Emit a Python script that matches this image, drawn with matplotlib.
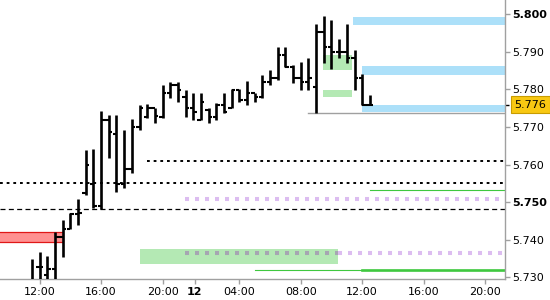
import matplotlib
matplotlib.use("Agg")
import matplotlib.pyplot as plt
import matplotlib.transforms as mtransforms
from matplotlib.patches import Rectangle

plt.rcParams["font.family"] = "DejaVu Sans"
plt.rcParams["lines.scale_dashes"] = False

# ---------------- DATA ----------------
# 30-minute OHLC bars, bar index 0 = 11:30 (day 11), last bar = 12:30 (day 12)
opens = [5.7288, 5.7328, 5.7307, 5.7323, 5.7408, 5.7429, 5.7469, 5.7525, 5.7549, 5.7490,
         5.7719, 5.7682, 5.7549, 5.7589, 5.7700, 5.7727, 5.7751, 5.7727, 5.7791, 5.7812,
         5.7780, 5.7751, 5.7719, 5.7745, 5.7727, 5.7759, 5.7751, 5.7799, 5.7772, 5.7791,
         5.7780, 5.7820, 5.7831, 5.7892, 5.7860, 5.7831, 5.7820, 5.7807, 5.7953, 5.7913,
         5.7900, 5.7900, 5.7884, 5.7831, 5.7759]
highs = [5.7349, 5.7368, 5.7357, 5.7421, 5.7453, 5.7472, 5.7509, 5.7639, 5.7642, 5.7743,
         5.7732, 5.7732, 5.7692, 5.7721, 5.7759, 5.7761, 5.7751, 5.7812, 5.7820, 5.7820,
         5.7799, 5.7791, 5.7791, 5.7751, 5.7764, 5.7791, 5.7801, 5.7801, 5.7823, 5.7791,
         5.7839, 5.7852, 5.7913, 5.7913, 5.7865, 5.7873, 5.7884, 5.7974, 5.7995, 5.7985,
         5.7934, 5.7974, 5.7905, 5.7841, 5.7785]
lows = [5.7288, 5.7293, 5.7293, 5.7293, 5.7355, 5.7429, 5.7440, 5.7519, 5.7485, 5.7482,
        5.7618, 5.7527, 5.7538, 5.7578, 5.7692, 5.7724, 5.7711, 5.7724, 5.7777, 5.7767,
        5.7727, 5.7719, 5.7719, 5.7711, 5.7719, 5.7737, 5.7751, 5.7767, 5.7759, 5.7767,
        5.7777, 5.7812, 5.7825, 5.7860, 5.7817, 5.7799, 5.7799, 5.7737, 5.7870, 5.7855,
        5.7884, 5.7870, 5.7799, 5.7759, 5.7759]
closes = [5.7290, 5.7328, 5.7323, 5.7408, 5.7429, 5.7469, 5.7472, 5.7599, 5.7490, 5.7719,
          5.7687, 5.7549, 5.7589, 5.7700, 5.7751, 5.7751, 5.7729, 5.7791, 5.7812, 5.7799,
          5.7751, 5.7740, 5.7767, 5.7727, 5.7759, 5.7740, 5.7799, 5.7772, 5.7791, 5.7780,
          5.7820, 5.7831, 5.7892, 5.7860, 5.7831, 5.7820, 5.7831, 5.7953, 5.7913, 5.7900,
          5.7900, 5.7884, 5.7831, 5.7759, 5.7759]

x_tick_pos = [1, 9, 17, 21.2, 27, 35, 43, 51, 59]
x_tick_labels = ["12:00", "16:00", "20:00", "12", "04:00", "08:00", "12:00", "16:00", "20:00"]
y_ticks = [5.730, 5.740, 5.750, 5.760, 5.770, 5.780, 5.790, 5.800]
bold_y = [5.750, 5.800]
last_price = 5.776

X_MIN, X_MAX = -4.17, 61.6
Y_MIN, Y_MAX = 5.7296, 5.8038

# zones: (start bar, end bar, low, high); None end = right edge
red_zone = (X_MIN, 4.0, 5.7395, 5.7420)
green_zones = [(14.1, 39.8, 5.7337, 5.7376),
               (37.9, 41.7, 5.7852, 5.7892),
               (37.9, 41.7, 5.7781, 5.7799)]
blue_zones = [(41.8, None, 5.7972, 5.7992),
              (43.0, None, 5.7839, 5.7862),
              (43.0, None, 5.7740, 5.7759)]

# levels: (start bar, end bar, price)
dotted_black = [(15.0, None, 5.7611), (X_MIN, None, 5.7550)]
dashed_black = [(X_MIN, None, 5.7482)]
lavender_dots = [(19.9, None, 5.7509), (39.8, None, 5.7366)]
gray_dots = [(19.9, 39.8, 5.7366)]
green_thin = [(44.0, None, 5.7533), (29.0, None, 5.7320)]
green_thick = [(43.0, None, 5.7320)]
price_line = [(36.0, None, 5.7737)]

# ---------------- PLOT ----------------
fig = plt.figure(figsize=(5.5, 3.0), dpi=100)
ax = fig.add_axes([0.0, 0.07, 505 / 550, 0.93])
ax.set_xlim(X_MIN, X_MAX)
ax.set_ylim(Y_MIN, Y_MAX)


def end_of(e):
    return X_MAX if e is None else e


# zones
x0, x1, lo, hi = red_zone
ax.add_patch(Rectangle((x0 - 1, lo), x1 - x0 + 1, hi - lo, facecolor="#ff9191",
                       edgecolor="#e01818", linewidth=0.9, zorder=1))
for s, e, lo, hi in green_zones:
    ax.fill_between([s, end_of(e)], lo, hi, color="#b4e9b4", linewidth=0, zorder=1)
for s, e, lo, hi in blue_zones:
    ax.fill_between([s, end_of(e)], lo, hi, color="#ace0f9", linewidth=0, zorder=1)

# levels
for s, e, p in dotted_black:
    ax.plot([s, end_of(e)], [p, p], color="black", lw=1.4, dashes=(2.0, 2.8),
            solid_capstyle="butt", dash_capstyle="butt", zorder=2)
for s, e, p in dashed_black:
    ax.plot([s, end_of(e)], [p, p], color="black", lw=0.9, dashes=(3.6, 2.4),
            dash_capstyle="butt", zorder=2)
for s, e, p in lavender_dots:
    ax.plot([s, end_of(e)], [p, p], color="#dcbdf0", lw=2.9, dashes=(2.9, 4.3),
            dash_capstyle="butt", zorder=2)
for s, e, p in gray_dots:
    ax.plot([s, end_of(e)], [p, p], color="#a6a6b2", lw=2.9, dashes=(2.9, 4.3),
            dash_capstyle="butt", zorder=2)
for s, e, p in green_thin:
    ax.plot([s, end_of(e)], [p, p], color="#3fc83f", lw=0.8, zorder=2)
for s, e, p in green_thick:
    ax.plot([s, end_of(e)], [p, p], color="#3fc83f", lw=1.9, zorder=2)
for s, e, p in price_line:
    ax.plot([s, end_of(e)], [p, p], color="#a0a0a0", lw=1.0, zorder=2)

# OHLC bars
idx = list(range(len(opens)))
ax.vlines(idx, lows, highs, color="black", lw=1.9, zorder=3)
ax.hlines(opens, [i - 0.45 for i in idx], idx, color="black", lw=1.5, zorder=3)
ax.hlines(closes, idx, [i + 0.45 for i in idx], color="black", lw=1.5, zorder=3)

# axes styling
for side in ["top", "left"]:
    ax.spines[side].set_visible(False)
for side in ["right", "bottom"]:
    ax.spines[side].set_color("#a0a0a0")
    ax.spines[side].set_linewidth(1.0)

ax.yaxis.tick_right()
ax.set_yticks(y_ticks)
ax.set_yticklabels([f"{v:.3f}" for v in y_ticks])
for lab, v in zip(ax.get_yticklabels(), y_ticks):
    if round(v, 3) in bold_y:
        lab.set_fontweight("bold")
ax.set_yticks([last_price], minor=True)
ax.tick_params(axis="y", which="minor", color="black", length=3, width=1)
ax.tick_params(axis="y", which="major", colors="#a0a0a0", labelcolor="black",
               length=3.5, width=1, pad=2, labelsize=8)

ax.set_xticks(x_tick_pos)
ax.set_xticklabels(x_tick_labels)
for lab, t in zip(ax.get_xticklabels(), x_tick_labels):
    if t == "12":
        lab.set_fontweight("bold")
ax.tick_params(axis="x", colors="#a0a0a0", labelcolor="black", length=3.5,
               width=1, pad=2, labelsize=8)

# last price tag
trans = mtransforms.blended_transform_factory(ax.transAxes, ax.transData)
ax.text(1.019, last_price, f"{last_price:.3f}", transform=trans, ha="left", va="center",
        fontsize=8, color="black", zorder=5, clip_on=False,
        bbox=dict(boxstyle="square,pad=0.3", facecolor="#f8c812",
                  edgecolor="#c89c00", linewidth=0.8))

fig.savefig("out.png", dpi=100)
